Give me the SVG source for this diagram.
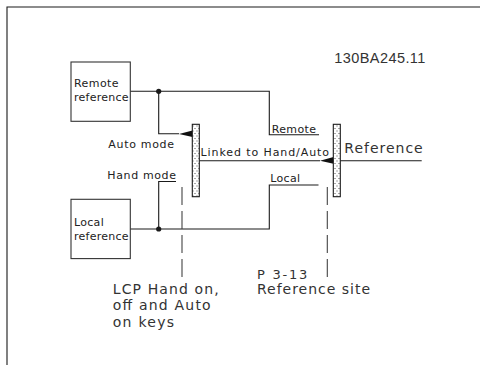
<svg xmlns="http://www.w3.org/2000/svg" width="480" height="365" viewBox="0 0 480 365">
  <defs>
    <style>
      .ln { fill: none; stroke: #1a1a1a; stroke-width: 1.1; }
      .dash { fill: none; stroke: #444; stroke-width: 1.1; stroke-dasharray: 18 6; }
      .box { fill: #fff; stroke: #333; stroke-width: 1.1; }
      .bar { fill: url(#dots); stroke: #1a1a1a; stroke-width: 1.1; }
      .s { font-family: "DejaVu Sans", sans-serif; font-size: 11px; fill: #222; }
      .m { font-family: "DejaVu Sans", sans-serif; font-size: 14px; fill: #333; }
      .p { font-family: "DejaVu Sans", sans-serif; font-size: 13px; fill: #333; }
      .id { font-family: "Liberation Sans", Arial, sans-serif; font-size: 14.5px; fill: #333; }
      .dot { fill: #1a1a1a; }
      .tri { fill: #111; }
    </style>
    <pattern id="dots" width="4" height="5" patternUnits="userSpaceOnUse">
      <rect width="4" height="5" fill="#fff"/>
      <rect x="0.5" y="0.5" width="1" height="1" fill="#555"/>
      <rect x="2.5" y="3" width="1" height="1" fill="#555"/>
    </pattern>
  </defs>

  <g id="frame">
    <path class="ln" d="M7,365 V7 H480"/>
  </g>

  <g id="connectors">
    <path class="ln" d="M130,91.3 H269.3 V134.7 H319"/>
    <path class="ln" d="M158.7,91.3 V133.8 H179"/>
    <path class="ln" d="M130,229 H269.3 V185 H318.5"/>
    <path class="ln" d="M176,181.5 H158.7 V229"/>
    <path class="ln" d="M199.3,160.7 H320"/>
    <path class="ln" d="M340.3,160.7 H421.7"/>
    <path class="dash" d="M182,187 V277"/>
    <path class="dash" d="M327.3,187 V277"/>
    <circle class="dot" cx="158.7" cy="91.3" r="2.6"/>
    <circle class="dot" cx="158.7" cy="229" r="2.6"/>
    <polygon class="tri" points="179,134 192.5,130.5 192.5,137"/>
    <polygon class="tri" points="320,160.7 333.5,157 333.5,163.8"/>
  </g>

  <g id="remote-reference">
    <rect class="box" x="71" y="62" width="59.3" height="59.3"/>
    <text class="s" x="74" y="87" textLength="44.6" lengthAdjust="spacing">Remote</text>
    <text class="s" x="74" y="100.5" textLength="54.5" lengthAdjust="spacing">reference</text>
  </g>

  <g id="local-reference">
    <rect class="box" x="71" y="199.3" width="59.3" height="59.3"/>
    <text class="s" x="74" y="226" textLength="29.7" lengthAdjust="spacing">Local</text>
    <text class="s" x="74" y="239.5" textLength="54.5" lengthAdjust="spacing">reference</text>
  </g>

  <g id="lcp-switch">
    <rect class="bar" x="192.3" y="124.3" width="7" height="72.4"/>
  </g>

  <g id="site-switch">
    <rect class="bar" x="333.3" y="124.3" width="7" height="72.4"/>
  </g>

  <g id="labels">
    <text class="s" x="108.3" y="148" textLength="65.7" lengthAdjust="spacing">Auto mode</text>
    <text class="s" x="107.3" y="179" textLength="68.7" lengthAdjust="spacing">Hand mode</text>
    <text class="s" x="271.7" y="132.5" textLength="44.3" lengthAdjust="spacing">Remote</text>
    <text class="s" x="270.3" y="182" textLength="29.7" lengthAdjust="spacing">Local</text>
    <text class="s" x="200.5" y="156" textLength="128.5" lengthAdjust="spacing">Linked to Hand/Auto</text>
    <text class="m" x="344.3" y="153" textLength="78.4" lengthAdjust="spacing">Reference</text>
    <text class="m" x="112.7" y="293.5" textLength="106" lengthAdjust="spacing">LCP Hand on,</text>
    <text class="m" x="112.7" y="310.2" textLength="98" lengthAdjust="spacing">off and Auto</text>
    <text class="m" x="112.7" y="326.9" textLength="61.3" lengthAdjust="spacing">on keys</text>
    <text class="p" x="257" y="278.5" textLength="50.3" lengthAdjust="spacing">P 3-13</text>
    <text class="m" x="257" y="293.8" textLength="113" lengthAdjust="spacing">Reference site</text>
    <text class="id" x="334.3" y="62.5" textLength="91" lengthAdjust="spacing">130BA245.11</text>
  </g>
</svg>
